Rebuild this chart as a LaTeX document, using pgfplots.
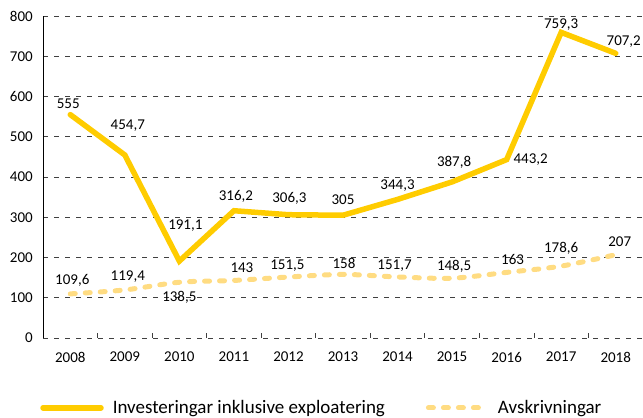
\documentclass[border=0pt]{standalone}
\usepackage{fontspec}
\setmainfont{Carlito}
\usepackage{pgfplots}
\usepackage{pgfplotstable}
\pgfplotsset{compat=1.18}
\definecolor{gold}{HTML}{FFCC00}
\definecolor{lightgold}{HTML}{FFDC82}

\pgfplotstableread{
x y lab dx dy
0 555 555 -2 11
1 454.7 454,7 3 29
2 191.1 191,1 6 35
3 316.2 316,2 2 14
4 306.3 306,3 1 16
5 305 305 0 16
6 344.3 344,3 0 14
7 387.8 387,8 2 20
8 443.2 443,2 24 0
9 759.3 759,3 0 8
10 707.2 707,2 8 12
}\invest

\pgfplotstableread{
x y lab dx dy
0 109.6 109,6 2 13
1 119.4 119,4 3 13
2 138.5 138,5 0 -15
3 143 143 8 13
4 151.5 151,5 -1 11
5 158 158 1 11
6 151.7 151,7 -3 11
7 148.5 148,5 2 12
8 163 163 6 13
9 178.6 178,6 0 18
10 207 207 4 13
}\avskr

\begin{document}
\begin{tikzpicture}
\path[use as bounding box] (-43bp,-80bp) rectangle (600bp,338bp);
\begin{axis}[
  at={(0,0)}, anchor=south west,
  scale only axis, width=600bp, height=322bp,
  xmin=-0.5, xmax=10.5, ymin=0, ymax=800,
  clip=false,
  /pgf/number format/assume math mode=true,
  xtick={0,...,10},
  xticklabels={2008,2009,2010,2011,2012,2013,2014,2015,2016,2017,2018},
  major x tick style={draw=none},
  minor xtick={0.5,1.5,...,9.5},
  minor tick length=5bp,
  minor x tick style={black!75, line width=0.8bp},
  tick align=inside,
  ytick={0,100,...,800},
  ytick style={draw=none},
  ymajorgrids,
  grid style={black!75, line width=0.8bp, dash pattern=on 5bp off 6bp},
  axis x line*=bottom, axis y line*=left,
  x axis line style={draw=none},
  y axis line style={draw=black, line width=1bp},
  tick label style={font=\fontsize{15bp}{18bp}\selectfont, black},
  xticklabel style={anchor=center, inner sep=0pt, yshift=-19bp},
  yticklabel style={anchor=east, inner sep=0pt, xshift=-10bp},
  nodes near coords,
  point meta=explicit symbolic,
  visualization depends on={\thisrow{dx} \as \dx},
  visualization depends on={\thisrow{dy} \as \dy},
  every node near coord/.append style={font=\fontsize{15bp}{18bp}\selectfont, black, anchor=center, inner sep=0pt, xshift=\dx bp, yshift=\dy bp},
  legend columns=2,
  legend style={draw=none, fill=none, at={(axis description cs:0.463,-0.217)}, anchor=center,
    font=\fontsize{19bp}{22bp}\selectfont,
    nodes={inner sep=0pt, anchor=west},
    /tikz/every odd column/.append style={column sep=9bp},
    /tikz/every even column/.append style={column sep=41bp}},
  legend image code/.code={\draw[#1] (0bp,0bp) -- (58bp,0bp);},
]
\addplot[gold, line width=5.5bp, line cap=round] table[x=x, y=y, meta=lab] {\invest};
\addlegendentry{Investeringar inklusive exploatering}
\addplot[lightgold, line width=5bp, line cap=round, dash pattern=on 5bp off 10bp, smooth] table[x=x, y=y, meta=lab] {\avskr};
\addlegendentry{Avskrivningar}
\end{axis}
\end{tikzpicture}
\end{document}
